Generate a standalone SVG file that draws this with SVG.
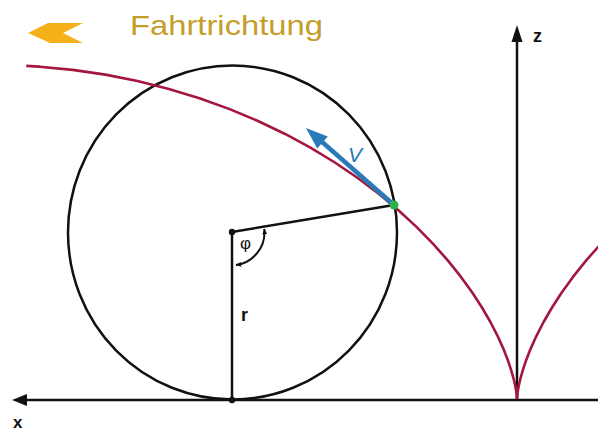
<svg xmlns="http://www.w3.org/2000/svg" width="598" height="432" viewBox="0 0 598 432">
<style>
.ax{stroke:#111;stroke-width:2.5;fill:none}
.cyc{stroke:#a3173f;stroke-width:2.6;fill:none;stroke-linejoin:round}
.lbl{font-family:"Liberation Sans",Arial,sans-serif;fill:#111;font-weight:bold}
.phi{font-family:"Liberation Sans",Arial,sans-serif;fill:#111;font-weight:normal}
</style>
<defs>
<marker id="ah" viewBox="0 0 10 10" refX="9" refY="5" markerWidth="6" markerHeight="6" orient="auto-start-reverse" markerUnits="userSpaceOnUse">
<path d="M0,1 L10,5 L0,9 Z" fill="#111"/>
</marker>
</defs>
<rect width="598" height="432" fill="#fff"/>
<g id="direction">
<polygon points="28,33 48,23 83,23 63,33 83,43 50,43" fill="#f5b01a"/>
<text x="130" y="35" font-family="Liberation Sans,Arial,sans-serif" font-size="28" fill="#c49d2a" textLength="193" lengthAdjust="spacingAndGlyphs">Fahrtrichtung</text>
</g>
<g id="connectors">
<line class="ax" x1="598" y1="400" x2="24" y2="400"/>
<polygon points="12,400 27,394 27,406" fill="#111"/>
<line class="ax" x1="517" y1="400" x2="517" y2="38"/>
<polygon points="517,25 511.5,42 522.5,42" fill="#111"/>
</g>
<g id="wheel">
<ellipse cx="232.5" cy="232.5" rx="164.5" ry="167" class="ax"/>
<line class="ax" x1="232" y1="232" x2="232" y2="400"/>
<line class="ax" x1="232" y1="232" x2="394" y2="205"/>
<circle cx="232" cy="232" r="3.2" fill="#111"/>
<circle cx="232" cy="400" r="3.2" fill="#111"/>
<path d="M236,265 A33,33 0 0 0 264.3,229" fill="none" stroke="#111" stroke-width="2" marker-end="url(#ah)" marker-start="url(#ah)"/>
</g>
<g id="cycloid">
<polyline class="cyc" points="26.27,65.86 39.57,66.67 72.65,69.85 105.34,74.65 137.47,81.02 168.89,88.90 199.44,98.21 229.00,108.86 257.43,120.73 284.62,133.72 310.46,147.69 334.85,162.50 357.73,178.01 379.03,194.06 398.71,210.48 416.73,227.12 433.08,243.81 447.77,260.38 460.81,276.67 472.25,292.51 482.13,307.75 490.53,322.23 497.52,335.81 503.20,348.35 507.68,359.73 511.10,369.83 513.56,378.56 515.23,385.82 516.25,391.54 516.78,395.67 516.97,398.17 517,399"/>
<polyline class="cyc" points="517,399 517.03,398.17 517.22,395.67 517.75,391.54 518.77,385.82 520.44,378.56 522.90,369.83 526.32,359.73 530.80,348.35 536.48,335.81 543.47,322.23 551.87,307.75 561.75,292.51 573.19,276.67 586.23,260.38 600.92,243.81"/>
</g>
<g id="velocity">
<line x1="394" y1="205" x2="321" y2="141" stroke="#2a7ab8" stroke-width="4.5"/>
<polygon points="306,128 327.8,136.5 317.2,148.5" fill="#2a7ab8"/>
<text x="348" y="162" font-family="Liberation Sans,Arial,sans-serif" font-size="21" font-style="italic" fill="#2a7ab8">V</text>
</g>
<g id="contact">
<circle cx="394" cy="205" r="4.5" fill="#2bb24c"/>
</g>
<g id="labels">
<text class="phi" x="240" y="249" font-size="17">φ</text>
<text class="lbl" x="241" y="321" font-size="18">r</text>
<text class="lbl" x="533" y="42" font-size="18">z</text>
<text class="lbl" x="13" y="428" font-size="17">x</text>
</g>
</svg>
